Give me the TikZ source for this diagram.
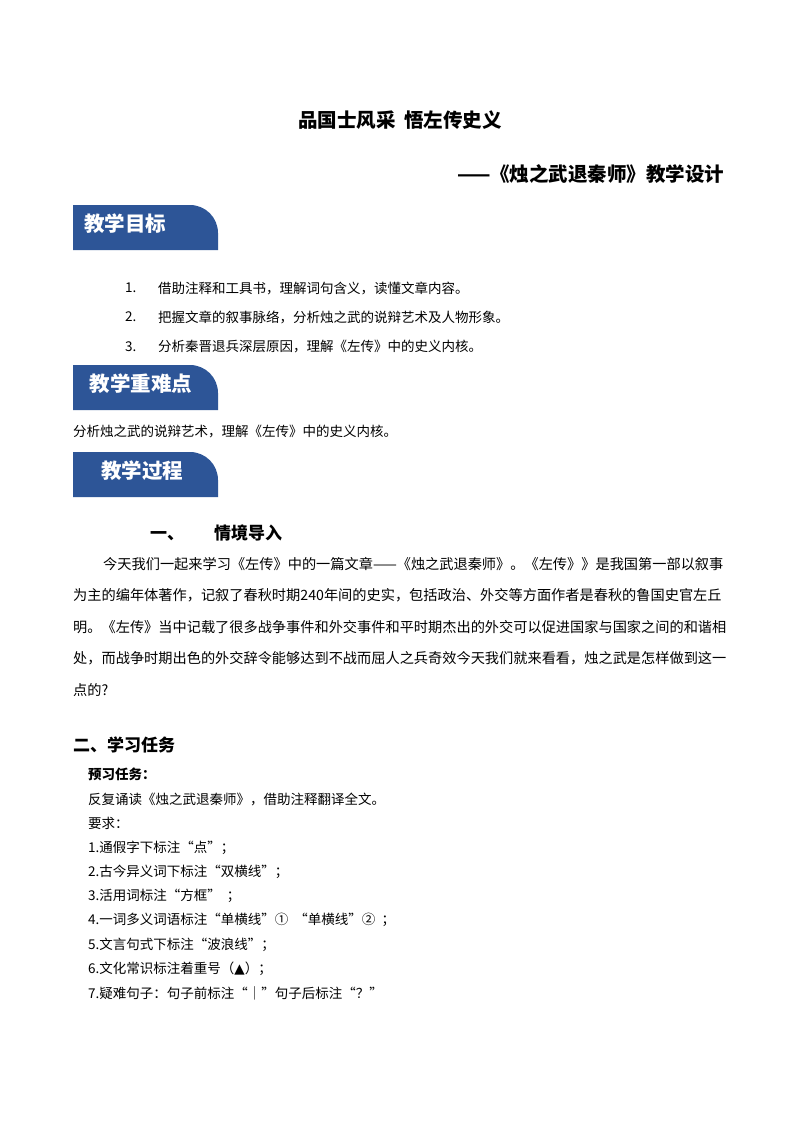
\documentclass[tikz,border=0pt]{standalone}
\usepackage{fontspec}
\setmainfont{Noto Sans CJK SC}
\definecolor{bannerblue}{HTML}{2D5597}
\begin{document}
\begin{tikzpicture}[x=1pt,y=-1pt,
  body/.style={anchor=west,inner sep=0,font=\fontsize{13.5}{16}\selectfont},
  para/.style={anchor=west,inner sep=0,font=\fontsize{14.2}{16}\selectfont},
  banner/.style={fill=bannerblue},
  btext/.style={text=white,font=\bfseries\fontsize{20.5}{22}\selectfont,inner sep=0},
  head/.style={anchor=west,inner sep=0,font=\bfseries\fontsize{17}{20}\selectfont}]
\useasboundingbox[fill=white] (0,0) rectangle (800,1132);
\node[font=\bfseries\fontsize{19.5}{22}\selectfont] (title) at (400,120) {品国士风采\ \ 悟左传史义};
\node[anchor=east,font=\bfseries\fontsize{19.5}{22}\selectfont] (sub) at (728,174) {——《烛之武退秦师》教学设计};
\foreach \y/\t/\n/\cx in {205/教学目标/b1/125,365/教学重难点/b2/141,452/教学过程/b3/142}{
  \fill[banner] (73,\y) -- (190,\y) arc[start angle=90,end angle=0,x radius=28,y radius=-28] -- (218,\y+45) -- (73,\y+45) -- cycle;
  \node[btext] (\n) at (\cx,\y+19) {\t};
}
\node[body] (g1n) at (125,288) {1.};
\node[body] (g1) at (158,288) {借助注释和工具书，理解词句含义，读懂文章内容。};
\node[body] (g2n) at (125,317) {2.};
\node[body] (g2) at (158,317) {把握文章的叙事脉络，分析烛之武的说辩艺术及人物形象。};
\node[body] (g3n) at (125,347) {3.};
\node[body] (g3) at (158,347) {分析秦晋退兵深层原因，理解《左传》中的史义内核。};
\node[body] (kd) at (73,432) {分析烛之武的说辩艺术，理解《左传》中的史义内核。};
\node[head] (s1) at (150,533) {一、\hspace{30pt}情境导入};
\node[para] (p1) at (103,564) {今天我们一起来学习《左传》中的一篇文章——《烛之武退秦师》。《左传》》是我国第一部以叙事};
\node[para] (p2) at (73,595) {为主的编年体著作，记叙了春秋时期240年间的史实，包括政治、外交等方面作者是春秋的鲁国史官左丘};
\node[para] (p3) at (73,627) {明。《左传》当中记载了很多战争事件和外交事件和平时期杰出的外交可以促进国家与国家之间的和谐相};
\node[para] (p4) at (73,658) {处，而战争时期出色的外交辞令能够达到不战而屈人之兵奇效今天我们就来看看，烛之武是怎样做到这一};
\node[para] (p5) at (73,690) {点的?};
\node[head] (s2) at (73,745) {二、学习任务};
\node[body,font=\bfseries\fontsize{13.5}{16}\selectfont] (yx) at (88,774) {预习任务：};
\node[body] (r0) at (88,799) {反复诵读《烛之武退秦师》，借助注释翻译全文。};
\node[body] (rq) at (88,823) {要求：};
\node[body] (r1) at (88,848) {1.通假字下标注“点”；};
\node[body] (r2) at (88,872) {2.古今异义词下标注“双横线”；};
\node[body] (r3) at (88,896) {3.活用词标注“方框”\ \ ；};
\node[body] (r4) at (88,920) {4.一词多义词语标注“单横线”①\ \ “单横线”②\ \ ；};
\node[body] (r5) at (88,945) {5.文言句式下标注“波浪线”；};
\node[body] (r6) at (88,969) {6.文化常识标注着重号（{\fontspec{DejaVu Sans}▲}）；};
\node[body] (r7) at (88,993) {7.疑难句子：句子前标注“｜”句子后标注“？”};
\end{tikzpicture}
\end{document}
